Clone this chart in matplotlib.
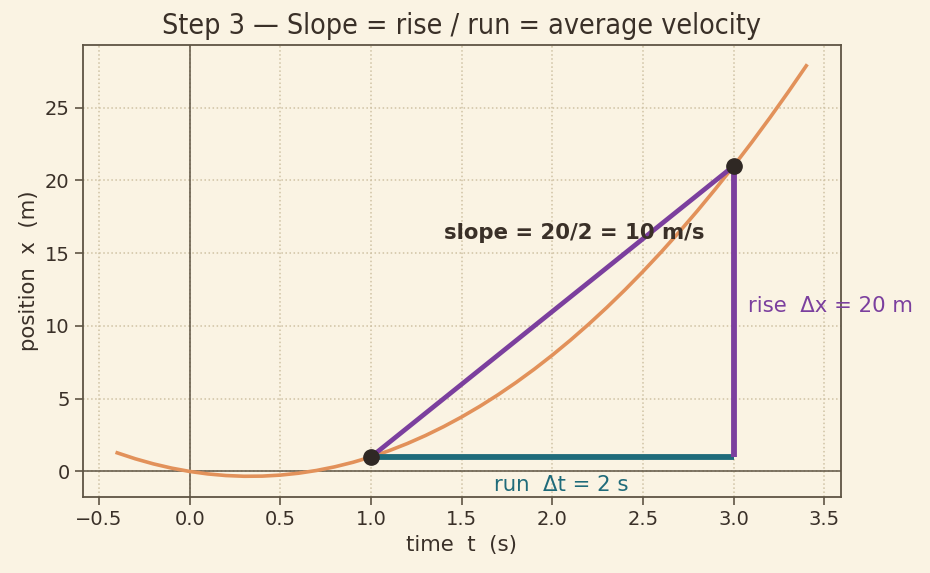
import matplotlib
matplotlib.use("Agg")
import matplotlib.pyplot as plt

# Curve samples
t_vals = [-0.4, -0.3, -0.2, -0.1, 0.0, 0.1, 0.2, 0.3, 0.4, 0.5, 0.6, 0.7, 0.8, 0.9,
          1.0, 1.1, 1.2, 1.3, 1.4, 1.5, 1.6, 1.7, 1.8, 1.9, 2.0, 2.1, 2.2, 2.3,
          2.4, 2.5, 2.6, 2.7, 2.8, 2.9, 3.0, 3.1, 3.2, 3.3, 3.4]
x_vals = [1.28, 0.87, 0.52, 0.23, 0.0, -0.17, -0.28, -0.33, -0.32, -0.25, -0.12, 0.07,
          0.32, 0.63, 1.0, 1.43, 1.92, 2.47, 3.08, 3.75, 4.48, 5.27, 6.12, 7.03, 8.0,
          9.03, 10.12, 11.27, 12.48, 13.75, 15.08, 16.47, 17.92, 19.43, 21.0, 22.63,
          24.32, 26.07, 27.88]

t1, x1 = 1.0, 1.0
t2, x2 = 3.0, 21.0

BG = "#faf3e3"
TXT = "#3a3028"
SPINE = "#5e5444"
ORANGE = "#e2915a"
PURPLE = "#7b3f9e"
TEAL = "#1f6b7a"
DOT = "#2f2824"

plt.rcParams['font.family'] = ['DejaVu Sans']
fig, ax = plt.subplots(figsize=(9.3, 5.73), dpi=100)
fig.patch.set_facecolor(BG)
ax.set_facecolor(BG)

ax.plot(t_vals, x_vals, color=ORANGE, lw=2.6, zorder=2)
ax.axhline(0, color=SPINE, lw=1.1, zorder=1)
ax.axvline(0, color=SPINE, lw=1.1, zorder=1)

ax.plot([t1, t2], [x1, x2], color=PURPLE, lw=3.4, zorder=3)
ax.plot([t1, t2], [x1, x1], color=TEAL, lw=4.2, zorder=3, solid_capstyle='butt')
ax.plot([t2, t2], [x1, x2], color=PURPLE, lw=4.2, zorder=3, solid_capstyle='butt')
ax.plot([t1, t2], [x1, x2], 'o', color=DOT, ms=11, zorder=5)

ax.text(2.12, 16.4, "slope = 20/2 = 10 m/s", ha='center', va='center',
        fontsize=15.3, fontweight='bold', color=TXT, zorder=6)
ax.text(3.08, 11.4, "rise  Δx = 20 m", ha='left', va='center',
        fontsize=15.3, color=PURPLE, zorder=6)
ax.text(2.05, -0.95, "run  Δt = 2 s", ha='center', va='center',
        fontsize=15.3, color=TEAL, zorder=6)

ax.grid(True, linestyle=':', color="#cfc2a4", lw=1.1)
ax.set_axisbelow(True)
for s in ax.spines.values():
    s.set_color(SPINE)
    s.set_linewidth(1.3)
ax.tick_params(colors=SPINE, labelcolor=TXT, labelsize=14, length=6, width=1.2)

ax.set_xlabel("time  t  (s)", fontsize=15.3, color=TXT)
ax.set_ylabel("position  x  (m)", fontsize=15.3, color=TXT)
ax.set_title("Step 3 — Slope = rise / run = average velocity", fontsize=20.5,
             color=TXT, family=['DejaVu Sans'], fontstretch='condensed', pad=8)

fig.subplots_adjust(left=0.089, right=0.904, top=0.921, bottom=0.133)
fig.savefig("out.png", dpi=100, facecolor=BG)
